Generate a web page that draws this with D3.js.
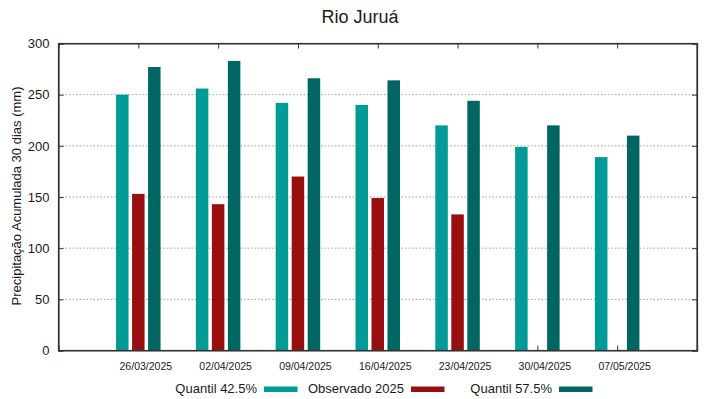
<!DOCTYPE html>
<html>
<head>
<meta charset="utf-8">
<script src="https://cdn.jsdelivr.net/npm/d3@7"></script>
<style>
  body { margin: 0; background: #fff; }
  svg text { font-family: "Liberation Sans", Arial, sans-serif; fill: #1a1a1a; }
</style>
</head>
<body>
<div id="chart"></div>
<script>
// data
const dates = ["26/03/2025", "02/04/2025", "09/04/2025", "16/04/2025", "23/04/2025", "30/04/2025", "07/05/2025"];
const quantil425 = [250, 256, 242, 240, 220, 199, 189];
const observado2025 = [153, 143, 170, 149, 133, null, null];
const quantil575 = [277, 283, 266, 264, 244, 220, 210];
const yTicks = [0, 50, 100, 150, 200, 250, 300];

const series = [
    { name: "Quantil 42.5%", values: quantil425, color: "#009a97" },
    { name: "Observado 2025", values: observado2025, color: "#990f0f" },
    { name: "Quantil 57.5%", values: quantil575, color: "#006662" }
];

const width = 719, height = 399;
const margin = { top: 43.5, right: 22, bottom: 48.5, left: 58.5 };

const svg = d3.select("#chart")
    .append("svg")
    .attr("width", width)
    .attr("height", height);

const x = d3.scaleLinear()
    .domain([-1, dates.length])
    .range([margin.left, width - margin.right]);

const y = d3.scaleLinear()
    .domain([0, 300])
    .range([height - margin.bottom, margin.top]);

const barW = 12.5, barStep = 16;

// grid
svg.append("g")
    .selectAll("line")
    .data(yTicks.filter(d => d > 0 && d < 300))
    .enter()
    .append("line")
    .attr("x1", margin.left)
    .attr("x2", width - margin.right)
    .attr("y1", d => y(d))
    .attr("y2", d => y(d))
    .attr("stroke", "#a0a0a0")
    .attr("stroke-width", 1)
    .attr("stroke-dasharray", "1.5,2");

// bars
series.forEach((s, si) => {
    svg.append("g")
        .selectAll("rect")
        .data(s.values.map((v, i) => ({ v, i })).filter(d => d.v != null))
        .enter()
        .append("rect")
        .attr("x", d => x(d.i) + (si - 1) * barStep - barW / 2)
        .attr("y", d => y(d.v))
        .attr("width", barW)
        .attr("height", d => y(0) - y(d.v))
        .attr("fill", s.color);
});

// axes
const axisLeft = d3.axisLeft(y).tickValues(yTicks).tickSize(-5).tickPadding(9);
svg.append("g")
    .attr("transform", `translate(${margin.left},0)`)
    .call(axisLeft)
    .call(g => g.selectAll("text").style("font-size", "13px"));

const axisRight = d3.axisRight(y).tickValues(yTicks).tickSize(-5).tickFormat("");
svg.append("g")
    .attr("transform", `translate(${width - margin.right},0)`)
    .call(axisRight);

const idx = d3.range(dates.length);
const axisBottom = d3.axisBottom(x).tickValues(idx).tickSize(-5).tickPadding(12)
    .tickFormat(i => dates[i]);
svg.append("g")
    .attr("transform", `translate(0,${height - margin.bottom})`)
    .call(axisBottom)
    .call(g => g.selectAll("text").style("font-size", "10.5px").attr("dx", "7"));

const axisTop = d3.axisTop(x).tickValues(idx).tickSize(-5).tickFormat("");
svg.append("g")
    .attr("transform", `translate(0,${margin.top})`)
    .call(axisTop);

svg.selectAll(".domain").attr("stroke", "#333").attr("stroke-width", 1.2);
svg.selectAll(".tick line").attr("stroke", "#333");

// frame
svg.append("rect")
    .attr("x", margin.left)
    .attr("y", margin.top)
    .attr("width", width - margin.left - margin.right)
    .attr("height", height - margin.top - margin.bottom)
    .attr("fill", "none")
    .attr("stroke", "#333")
    .attr("stroke-width", 1.2);

// title
svg.append("text")
    .attr("x", 360)
    .attr("y", 23)
    .attr("text-anchor", "middle")
    .style("font-size", "18px")
    .text("Rio Juruá");

// y label
svg.append("text")
    .attr("transform", "translate(21,196) rotate(-90)")
    .attr("text-anchor", "middle")
    .style("font-size", "13px")
    .text("Precipitação Acumulada 30 dias (mm)");

// legend
const legendEnds = [257, 404, 552];
series.forEach((s, i) => {
    svg.append("text")
        .attr("x", legendEnds[i])
        .attr("y", 393)
        .attr("text-anchor", "end")
        .style("font-size", "13px")
        .text(s.name);
    svg.append("rect")
        .attr("x", legendEnds[i] + 7)
        .attr("y", 386.5)
        .attr("width", 33.5)
        .attr("height", 5.5)
        .attr("fill", s.color);
});
</script>
</body>
</html>
